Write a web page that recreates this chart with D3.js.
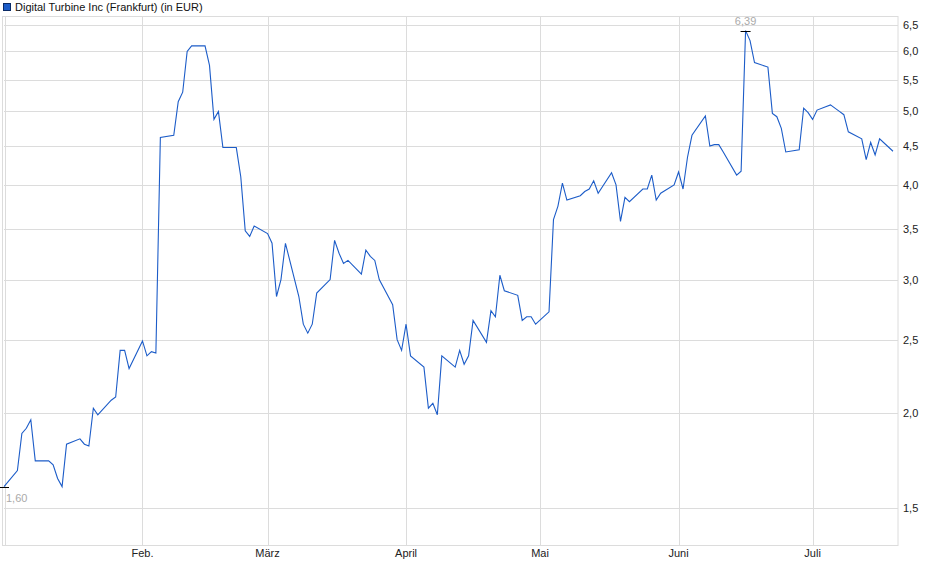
<!DOCTYPE html>
<html><head><meta charset="utf-8">
<script src="https://cdn.jsdelivr.net/npm/d3@7"></script>
<style>body{margin:0;background:#fff}svg{font-family:'Liberation Sans',Arial,sans-serif}</style>
</head><body><svg id="chart" width="940" height="579"></svg>
<script>
const seriesName = "Digital Turbine Inc (Frankfurt) (in EUR)";
const janValues = [1.60,1.68,1.88,1.91,1.96,1.73,1.73,1.71,1.64,1.60,1.82,1.85,1.82,1.81,2.03,1.99,2.08,2.10,2.42,2.42,2.29];
const febValues = [2.49,2.38,2.41,2.40,4.62,4.65,5.15,5.30,6.00,6.10,6.10,5.75,4.88,5.00,4.48,4.48,4.10,3.48,3.42,3.53];
const marValues = [3.45,3.35,2.85,3.00,3.35,2.85,2.62,2.55,2.62,2.88,3.00,3.38,3.25,3.15,3.18,3.05,3.28,3.22,3.18,3.00,2.78,2.50,2.42];
const aprValues = [2.62,2.38,2.30,2.03,2.06,1.99,2.38,2.30,2.42,2.32,2.38,2.65,2.48,2.73,2.68,3.04,2.90,2.86,2.65,2.68,2.68,2.62];
const mayValues = [2.72,3.60,3.75,4.02,3.82,3.87,3.92,3.95,4.05,3.90,4.15,4.00,3.58,3.85,3.80,3.95,3.95,4.12,3.82,3.90,4.00];
const junValues = [4.16,3.95,4.35,4.65,4.93,4.50,4.52,4.52,4.42,4.12,4.17,6.39,6.20,5.80,5.72,4.97,4.92,4.75,4.42,4.45,5.05,4.98];
const julValues = [4.88,5.02,5.10,5.05,5.00,4.95,4.70,4.60,4.32,4.55,4.38,4.60,4.43];
const yTicks = [1.5,2.0,2.5,3.0,3.5,4.0,4.5,5.0,5.5,6.0,6.5];
const monthLabels = ["Feb.","März","April","Mai","Juni","Juli"];

const values = [].concat(janValues, febValues, marValues, aprValues, mayValues, junValues, julValues);
// trading days from 1 Jan 2021
const dates = [];
for (let d = new Date(2021, 0, 1); dates.length < values.length; d = new Date(d.getFullYear(), d.getMonth(), d.getDate() + 1)) {
    if (d.getDay() !== 0 && d.getDay() !== 6) dates.push(d);
}
const data = values.map((v, i) => ({date: dates[i], value: v}));

const plotLeft = 4, plotRight = 898, plotTop = 16, plotBottom = 545;
const svg = d3.select("#chart");
const x = d3.scaleTime().domain([new Date(2021, 0, 1), new Date(2021, 6, 19)]).range([plotLeft, 893]);
const y = d3.scaleLog().domain([1.34, 6.68]).range([plotBottom, plotTop]);

// grid
svg.append("g").selectAll("line").data(yTicks).join("line")
    .attr("x1", plotLeft).attr("x2", plotRight).attr("y1", d => Math.round(y(d)) + 0.5).attr("y2", d => Math.round(y(d)) + 0.5)
    .attr("stroke", "#dcdcdc");
const monthDates = d3.range(1, 7).map(m => new Date(2021, m, 1));
svg.append("g").selectAll("line").data(monthDates).join("line")
    .attr("x1", d => Math.round(x(d)) + 0.5).attr("x2", d => Math.round(x(d)) + 0.5).attr("y1", plotTop).attr("y2", plotBottom)
    .attr("stroke", "#dcdcdc");
// frame
svg.append("rect").attr("x", 2.5).attr("y", plotTop + 0.5).attr("width", plotRight - 2.5).attr("height", plotBottom - plotTop)
    .attr("fill", "none").attr("stroke", "#dcdcdc");
svg.append("line").attr("x1", 5.5).attr("x2", 5.5).attr("y1", plotTop).attr("y2", plotBottom).attr("stroke", "#dcdcdc");

// axes labels
svg.append("g").selectAll("text").data(yTicks).join("text")
    .attr("x", 903).attr("y", d => y(d) + 4).attr("font-size", 11).attr("fill", "#222")
    .text(d => d.toFixed(1).replace(".", ","));
svg.append("g").selectAll("text").data(monthDates).join("text")
    .attr("x", d => x(d)).attr("y", 557).attr("text-anchor", "middle").attr("font-size", 11).attr("fill", "#222")
    .text((d, i) => monthLabels[i]);

// line
svg.append("path").datum(data)
    .attr("d", d3.line().x(d => x(d.date)).y(d => y(d.value)))
    .attr("fill", "none").attr("stroke", "#1c5cc8").attr("stroke-width", 1.1);

// min / max markers
const maxP = data.reduce((a, b) => b.value > a.value ? b : a);
const minP = data[0];
[[maxP, -6], [minP, 15]].forEach(([p, dy]) => {
    svg.append("line").attr("x1", x(p.date) - 5).attr("x2", x(p.date) + 5)
        .attr("y1", Math.round(y(p.value)) + 0.5).attr("y2", Math.round(y(p.value)) + 0.5).attr("stroke", "#000");
    svg.append("text").attr("x", p === minP ? x(p.date) + 2 : x(p.date)).attr("y", y(p.value) + dy)
        .attr("text-anchor", p === minP ? "start" : "middle").attr("font-size", 11).attr("fill", "#aaa")
        .text(p.value.toFixed(2).replace(".", ","));
});

// legend
svg.append("rect").attr("x", 3.5).attr("y", 3.5).attr("width", 7).attr("height", 7)
    .attr("fill", "#1c5cc8").attr("stroke", "#0a2a66");
svg.append("text").attr("x", 15).attr("y", 11).attr("font-size", 11).attr("fill", "#111").text(seriesName);
</script></body></html>
